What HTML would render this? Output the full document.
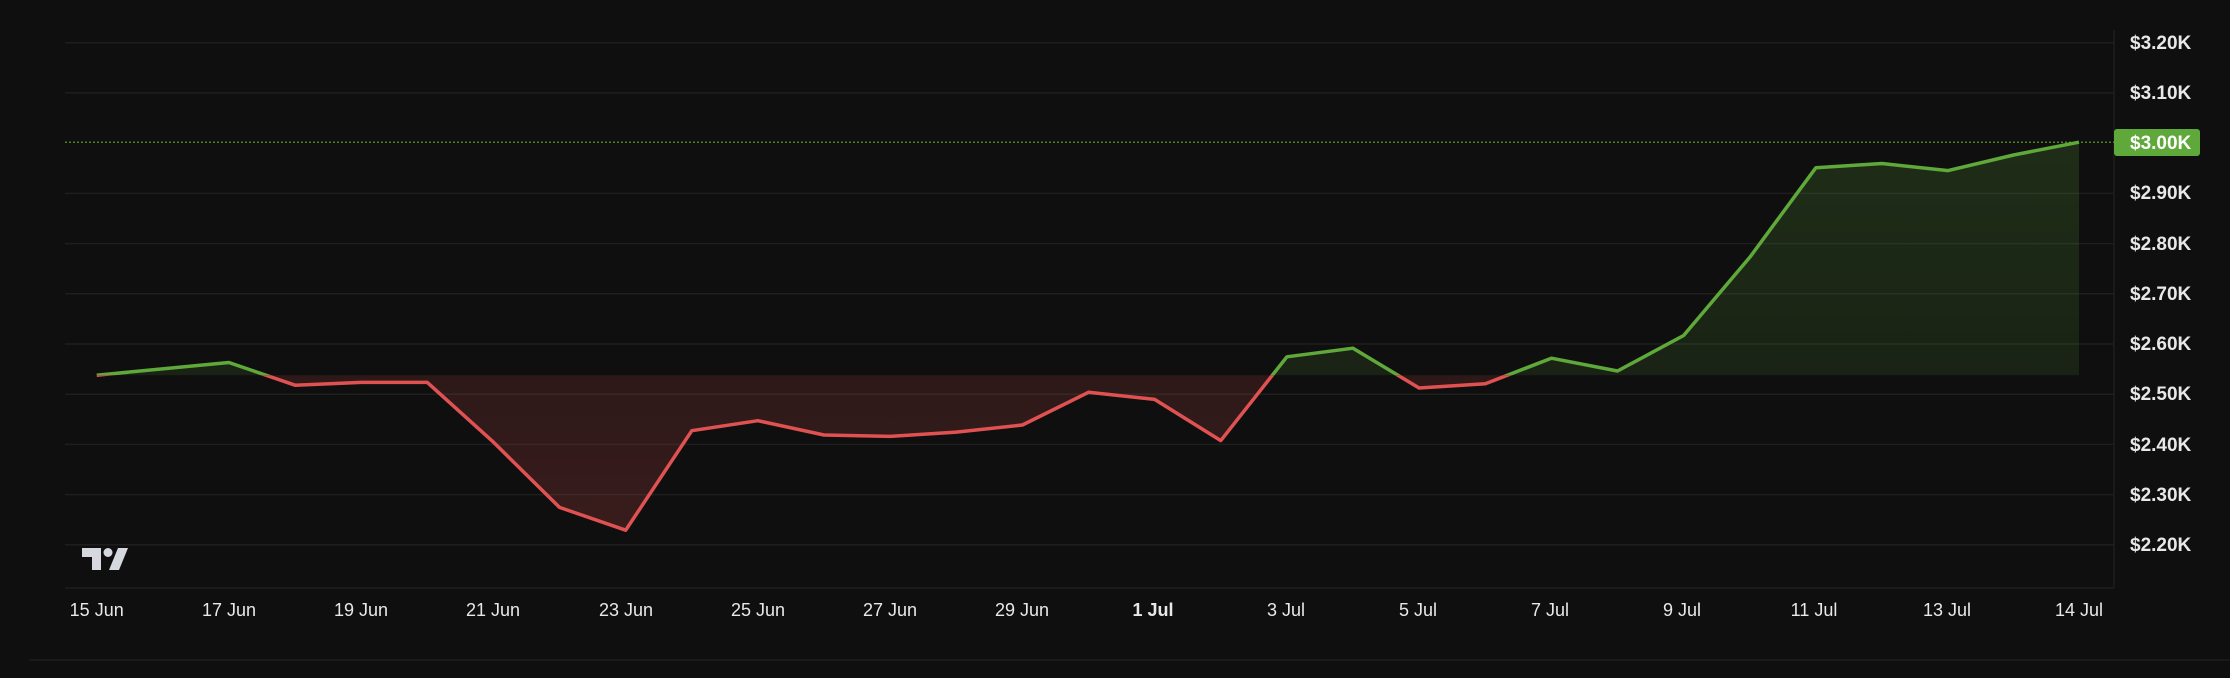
<!DOCTYPE html>
<html><head><meta charset="utf-8"><style>
html,body{margin:0;padding:0;background:#0f0f0f;width:2230px;height:678px;overflow:hidden}
svg{display:block}
text{font-family:"Liberation Sans",sans-serif}
</style></head><body>
<svg width="2230" height="678" viewBox="0 0 2230 678" xmlns="http://www.w3.org/2000/svg">
<defs>
<clipPath id="above"><rect x="0" y="0" width="2230" height="375.2"/></clipPath>
<clipPath id="below"><rect x="0" y="375.2" width="2230" height="400"/></clipPath>
<linearGradient id="gg" x1="0" y1="0" x2="0" y2="1"><stop offset="0" stop-color="#5fa83a" stop-opacity="0.2"/><stop offset="1" stop-color="#5fa83a" stop-opacity="0.08"/></linearGradient>
<linearGradient id="rg" x1="0" y1="0" x2="0" y2="1"><stop offset="0" stop-color="#e05050" stop-opacity="0.06"/><stop offset="1" stop-color="#e05050" stop-opacity="0.2"/></linearGradient>
</defs>
<rect width="2230" height="678" fill="#0f0f0f"/>
<g stroke="#1e1e1e" stroke-width="1.5">
<line x1="65" x2="2114" y1="42.7" y2="42.7"/>
<line x1="65" x2="2114" y1="92.9" y2="92.9"/>
<line x1="65" x2="2114" y1="193.4" y2="193.4"/>
<line x1="65" x2="2114" y1="243.6" y2="243.6"/>
<line x1="65" x2="2114" y1="293.8" y2="293.8"/>
<line x1="65" x2="2114" y1="344" y2="344"/>
<line x1="65" x2="2114" y1="394.2" y2="394.2"/>
<line x1="65" x2="2114" y1="444.4" y2="444.4"/>
<line x1="65" x2="2114" y1="494.6" y2="494.6"/>
<line x1="65" x2="2114" y1="544.8" y2="544.8"/>
<line x1="65" x2="2114" y1="588" y2="588"/>
<line x1="2114" x2="2114" y1="30" y2="588"/>
<line x1="29" x2="2230" y1="660" y2="660"/>
</g>
<line x1="65" x2="2114" y1="142.2" y2="142.2" stroke="#5fa83a" stroke-width="1.2" stroke-dasharray="2,2"/>
<polygon clip-path="url(#above)" fill="url(#gg)" points="96.7,375.2 228.9,362.5 295.1,385.2 361.2,382.4 427.3,382.4 493.4,442.1 559.5,507.4 625.7,530.2 691.8,430.7 757.9,420.7 824,435 890.2,436.4 956.3,432.1 1022.4,425 1088.5,392.3 1154.6,399.4 1220.8,440.6 1286.9,356.8 1353,348.2 1419.1,388 1485.3,383.8 1551.4,358.2 1617.5,371 1683.6,335.5 1749.8,257.3 1815.9,167.7 1882,163.5 1948.1,170.6 2013.6,155 2079,142.2 2079,375.2"/>
<polygon clip-path="url(#below)" fill="url(#rg)" points="96.7,375.2 228.9,362.5 295.1,385.2 361.2,382.4 427.3,382.4 493.4,442.1 559.5,507.4 625.7,530.2 691.8,430.7 757.9,420.7 824,435 890.2,436.4 956.3,432.1 1022.4,425 1088.5,392.3 1154.6,399.4 1220.8,440.6 1286.9,356.8 1353,348.2 1419.1,388 1485.3,383.8 1551.4,358.2 1617.5,371 1683.6,335.5 1749.8,257.3 1815.9,167.7 1882,163.5 1948.1,170.6 2013.6,155 2079,142.2 2079,375.2"/>
<polyline clip-path="url(#above)" fill="none" stroke="#5fa83a" stroke-width="3.5" stroke-linejoin="round" points="96.7,375.2 228.9,362.5 295.1,385.2 361.2,382.4 427.3,382.4 493.4,442.1 559.5,507.4 625.7,530.2 691.8,430.7 757.9,420.7 824,435 890.2,436.4 956.3,432.1 1022.4,425 1088.5,392.3 1154.6,399.4 1220.8,440.6 1286.9,356.8 1353,348.2 1419.1,388 1485.3,383.8 1551.4,358.2 1617.5,371 1683.6,335.5 1749.8,257.3 1815.9,167.7 1882,163.5 1948.1,170.6 2013.6,155 2079,142.2"/>
<polyline clip-path="url(#below)" fill="none" stroke="#e05252" stroke-width="3.5" stroke-linejoin="round" points="96.7,375.2 228.9,362.5 295.1,385.2 361.2,382.4 427.3,382.4 493.4,442.1 559.5,507.4 625.7,530.2 691.8,430.7 757.9,420.7 824,435 890.2,436.4 956.3,432.1 1022.4,425 1088.5,392.3 1154.6,399.4 1220.8,440.6 1286.9,356.8 1353,348.2 1419.1,388 1485.3,383.8 1551.4,358.2 1617.5,371 1683.6,335.5 1749.8,257.3 1815.9,167.7 1882,163.5 1948.1,170.6 2013.6,155 2079,142.2"/>
<g fill="#e8e8e8" font-size="19" font-weight="bold">
<text x="2130" y="49">$3.20K</text>
<text x="2130" y="99">$3.10K</text>
<text x="2130" y="199">$2.90K</text>
<text x="2130" y="250">$2.80K</text>
<text x="2130" y="300">$2.70K</text>
<text x="2130" y="350">$2.60K</text>
<text x="2130" y="400">$2.50K</text>
<text x="2130" y="451">$2.40K</text>
<text x="2130" y="501">$2.30K</text>
<text x="2130" y="551">$2.20K</text>
</g>
<rect x="2114" y="129" width="86" height="27" rx="3" fill="#5fa83a"/>
<text x="2130" y="149" fill="#ffffff" font-size="19" font-weight="bold">$3.00K</text>
<g fill="#e8e8e8" font-size="18" text-anchor="middle">
<text x="96.7" y="616">15 Jun</text>
<text x="229" y="616">17 Jun</text>
<text x="361" y="616">19 Jun</text>
<text x="493" y="616">21 Jun</text>
<text x="626" y="616">23 Jun</text>
<text x="758" y="616">25 Jun</text>
<text x="890" y="616">27 Jun</text>
<text x="1022" y="616">29 Jun</text>
<text x="1153" y="616" font-weight="bold">1 Jul</text>
<text x="1286" y="616">3 Jul</text>
<text x="1418" y="616">5 Jul</text>
<text x="1550" y="616">7 Jul</text>
<text x="1682" y="616">9 Jul</text>
<text x="1814" y="616">11 Jul</text>
<text x="1947" y="616">13 Jul</text>
<text x="2079" y="616">14 Jul</text>
</g>
<g fill="#d6d8e0">
<polygon points="82,548 101,548 101,570 92,570 92,557 82,557"/>
<circle cx="108" cy="552.5" r="4.5"/>
<polygon points="118,548 128,548 119,570 109,570"/>
</g>
</svg>
</body></html>
